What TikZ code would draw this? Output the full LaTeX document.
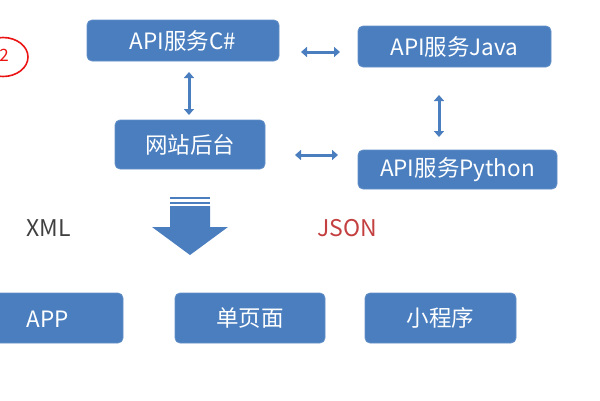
\documentclass[tikz,border=0pt]{standalone}
\usepackage{fontspec}
\setmainfont{Noto Sans CJK SC}
\usetikzlibrary{arrows.meta}
\definecolor{boxblue}{RGB}{74,126,191}
\definecolor{txtgray}{RGB}{64,64,64}
\definecolor{jsonred}{RGB}{196,64,64}
\definecolor{markred}{RGB}{235,20,20}
\tikzset{
  bluebox/.style={draw=boxblue!85!white, line width=0.8pt, fill=boxblue, rounded corners=5pt, text=white,
     font=\fontsize{22.5}{26}\selectfont, inner sep=0pt},
  dblarrow/.style={draw=boxblue, line width=3pt, {Triangle[width=10pt,length=6pt]}-{Triangle[width=10pt,length=6pt]}},
  plainlabel/.style={font=\fontsize{23}{27}\selectfont, inner sep=0pt}
}
\begin{document}
\begin{tikzpicture}[x=1pt,y=-1pt]
\useasboundingbox (0,0) rectangle (600,400);
\clip (0,0) rectangle (600,400);
% boxes
\node[bluebox, minimum width=192pt, minimum height=41pt] (csharp) at (183,40.5) {API服务C\#};
\node[bluebox, minimum width=150pt, minimum height=49pt] (site) at (190,144.5) {网站后台};
\node[bluebox, minimum width=193pt, minimum height=41pt] (java) at (454.5,46.5) {API服务Java};
\node[bluebox, minimum width=199pt, minimum height=39pt] (python) at (457.5,169.5) {API服务Python};
\node[bluebox, minimum width=140pt, minimum height=50pt, text width=0pt] (app) at (53,318) {};
\node[text=white, font=\fontsize{22.5}{26}\selectfont, inner sep=0pt] (applbl) at (48,319) {APP};
\node[bluebox, minimum width=150pt, minimum height=50pt] (spa) at (250,318) {单页面};
\node[bluebox, minimum width=151pt, minimum height=50pt] (mini) at (440.5,318) {小程序};
% labels
\node[plainlabel, text=txtgray] (xml) at (48.5,228) {XML};
\node[plainlabel, text=jsonred] (json) at (347,228) {JSON};
% double arrows
\coordinate (a1s) at (189,72); \coordinate (a1e) at (189,115);
\coordinate (a2s) at (301,52); \coordinate (a2e) at (340,52);
\coordinate (a3s) at (295,155); \coordinate (a3e) at (338,155);
\coordinate (a4s) at (439,95); \coordinate (a4e) at (439,137);
\draw[dblarrow] (a1s) -- (a1e);
\draw[dblarrow] (a2s) -- (a2e);
\draw[dblarrow] (a3s) -- (a3e);
\draw[dblarrow] (a4s) -- (a4e);
% big down arrow
\fill[boxblue] (170,197) rectangle (210,199.3);
\fill[boxblue] (170,201.7) rectangle (210,204);
\fill[boxblue] (170,206) -- (210,206) -- (210,227) -- (228,227) -- (190,255) -- (152,227) -- (170,227) -- cycle;
% red mark
\draw[markred, line width=1.6pt] (3,57) ellipse [x radius=25, y radius=19.5];
\node[text=markred, font=\fontsize{17}{20}\selectfont, inner sep=0pt] (two) at (4,55) {2};
\end{tikzpicture}
\end{document}
